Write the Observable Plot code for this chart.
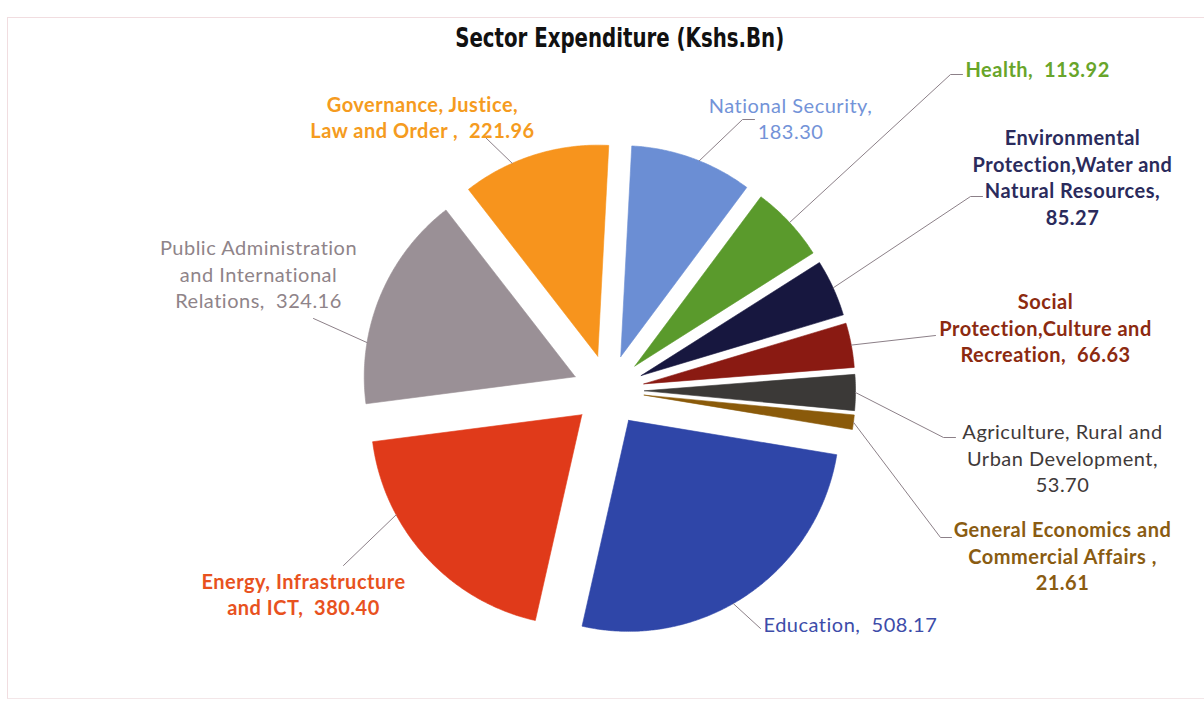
<!DOCTYPE html>
<html>
<head>
<meta charset="utf-8">
<script src="https://cdn.jsdelivr.net/npm/d3@7"></script>
<script src="https://cdn.jsdelivr.net/npm/@observablehq/plot@0.6"></script>
<style>
  html, body { margin: 0; padding: 0; background: #ffffff; }
  body { width: 1204px; height: 706px; overflow: hidden; position: relative; }
  #frame {
    position: absolute; left: 7px; top: 17px; width: 1200px; height: 680px;
    border-top: 1px solid #f1dde0; border-left: 1px solid #f1dde0; border-bottom: 1px solid #f3e6e8;
    pointer-events: none;
  }
  #title {
    position: relative;
    box-sizing: border-box; width: 1204px; height: 58px;
    padding-top: 22px; padding-left: 36px;
    text-align: center;
    font-family: "DejaVu Sans Condensed", "Liberation Sans Narrow", sans-serif;
    font-weight: bold; font-size: 26px; line-height: 32px; color: #111;
  }
  #title span { display: inline-block; transform: scaleX(0.845); transform-origin: center; }
  #chart { position: relative; }
</style>
</head>
<body>
<div id="frame"></div>
<div id="title"><span>Sector Expenditure (Kshs.Bn)</span></div>
<div id="chart"></div>
<script>
// ---------- data ----------
const sectors = [
  "National Security",
  "Health",
  "Environmental Protection,Water and Natural Resources",
  "Social Protection,Culture and Recreation",
  "Agriculture, Rural and Urban Development",
  "General Economics and Commercial Affairs",
  "Education",
  "Energy, Infrastructure and ICT",
  "Public Administration and International Relations",
  "Governance, Justice, Law and Order"
];
const values = [183.30, 113.92, 85.27, 66.63, 53.70, 21.61, 508.17, 380.40, 324.16, 221.96];
const labelStems = [
  "National Security,\n",
  "Health,  ",
  "Environmental\nProtection,Water and\nNatural Resources,\n",
  "Social\nProtection,Culture and\nRecreation,  ",
  "Agriculture, Rural and\nUrban Development,\n",
  "General Economics and\nCommercial Affairs ,\n",
  "Education,  ",
  "Energy, Infrastructure\nand ICT,  ",
  "Public Administration\nand International\nRelations,  ",
  "Governance, Justice,\nLaw and Order ,  "
];

// ---------- styles ----------
const sliceColors = ["#6b8ed4", "#5a9a2c", "#17173f", "#8a1a12", "#3b3937", "#8a5a0a", "#2f46a8", "#e03a1a", "#9a9096", "#f7941d"];
const labelColors = ["#7393d8", "#68a52a", "#2b2b5c", "#8c2a10", "#3f3a3a", "#8a5c12", "#3d4ca9", "#e8521e", "#8f8489", "#f59b20"];
const labelBold = [false, true, true, true, false, true, false, true, false, true];

// ---------- layout ----------
const CX = 608, CY = 390, R = 211, EXPLODE = 36, ROTATE = 3;
const labelLayout = [
  {x: 790,  y: 117, anchor: "middle", frac: 0.56,  path: [[742, 119], [754, 119]]},
  {x: 965,  y: 68,  anchor: "start",  frac: 0.5,   path: [[950, 74], [962, 74]]},
  {x: 1072, y: 176, anchor: "middle", frac: 0.5,   path: [[970, 196], [982, 196]]},
  {x: 1045, y: 327, anchor: "middle", frac: 0.5,   path: [[935, 335]]},
  {x: 1062, y: 457, anchor: "middle", frac: 0.5,   path: [[943, 437], [955, 437]]},
  {x: 1062, y: 555, anchor: "middle", frac: 0.5,   path: [[940, 537], [951, 537]]},
  {x: 763,  y: 623, anchor: "start",  frac: 0.545, path: [[760, 628]]},
  {x: 303,  y: 593, anchor: "middle", frac: 0.70,  path: [[343, 565]]},
  {x: 258,  y: 273, anchor: "middle", frac: 0.28,  path: [[313, 318]]},
  {x: 422,  y: 116, anchor: "middle", frac: 0.34,  path: [[485, 137]]}
];
const FONT = "Lato, 'Open Sans', sans-serif";
const FONT_SIZE = 20;
const LINE_H = 26.5;

// ---------- geometry from data ----------
const rad = Math.PI / 180;
const arcs = d3.pie().sort(null).startAngle(ROTATE * rad).endAngle((ROTATE + 360) * rad)(values);
const pt = (a, r, ox, oy) => [ox + r * Math.sin(a), oy - r * Math.cos(a)];

const slices = arcs.map((p, i) => {
  const mid = (p.startAngle + p.endAngle) / 2;
  const [vx, vy] = pt(mid, EXPLODE, CX, CY);
  const pts = [{x: vx, y: vy}];
  const n = Math.max(4, Math.ceil((p.endAngle - p.startAngle) / rad * 2));
  for (let k = 0; k <= n; k++) {
    const a = p.startAngle + (p.endAngle - p.startAngle) * k / n;
    const [x, y] = pt(a, R, vx, vy);
    pts.push({x, y});
  }
  pts.push({x: vx, y: vy});
  return {i, pts, vx, vy, p};
});

const leaders = [];
slices.forEach(s => {
  const L = labelLayout[s.i];
  const a = s.p.startAngle + (s.p.endAngle - s.p.startAngle) * L.frac;
  const [sx, sy] = pt(a, R, s.vx, s.vy);
  leaders.push({k: s.i, x: sx, y: sy});
  L.path.forEach(([x, y]) => leaders.push({k: s.i, x, y}));
});

const labels = sectors.map((name, i) => ({
  name,
  text: labelStems[i] + values[i].toFixed(2),
  x: labelLayout[i].x,
  y: labelLayout[i].y
}));

// ---------- plot ----------
const marks = [];
slices.forEach(s => {
  marks.push(Plot.line(s.pts, {
    x: "x", y: "y", curve: "linear",
    fill: sliceColors[s.i], stroke: sliceColors[s.i], strokeWidth: 0.6
  }));
});
marks.push(Plot.line(leaders, {x: "x", y: "y", z: "k", stroke: "#8c8088", strokeWidth: 1, curve: "linear"}));
labels.forEach((d, i) => {
  marks.push(Plot.text([d], {
    x: "x", y: "y", text: "text",
    fill: labelColors[i],
    fontWeight: labelBold[i] ? "bold" : "normal",
    fontSize: FONT_SIZE, fontFamily: FONT,
    textAnchor: labelLayout[i].anchor,
    lineAnchor: "middle",
    lineHeight: LINE_H / FONT_SIZE
  }));
});

const chart = Plot.plot({
  width: 1204,
  height: 648,
  margin: 0,
  x: {domain: [0, 1204], range: [0, 1204], axis: null},
  y: {domain: [58, 706], range: [0, 648], axis: null},
  style: {background: "transparent", overflow: "visible", letterSpacing: "0.5px"},
  marks
});
document.getElementById("chart").appendChild(chart);
</script>
</body>
</html>
